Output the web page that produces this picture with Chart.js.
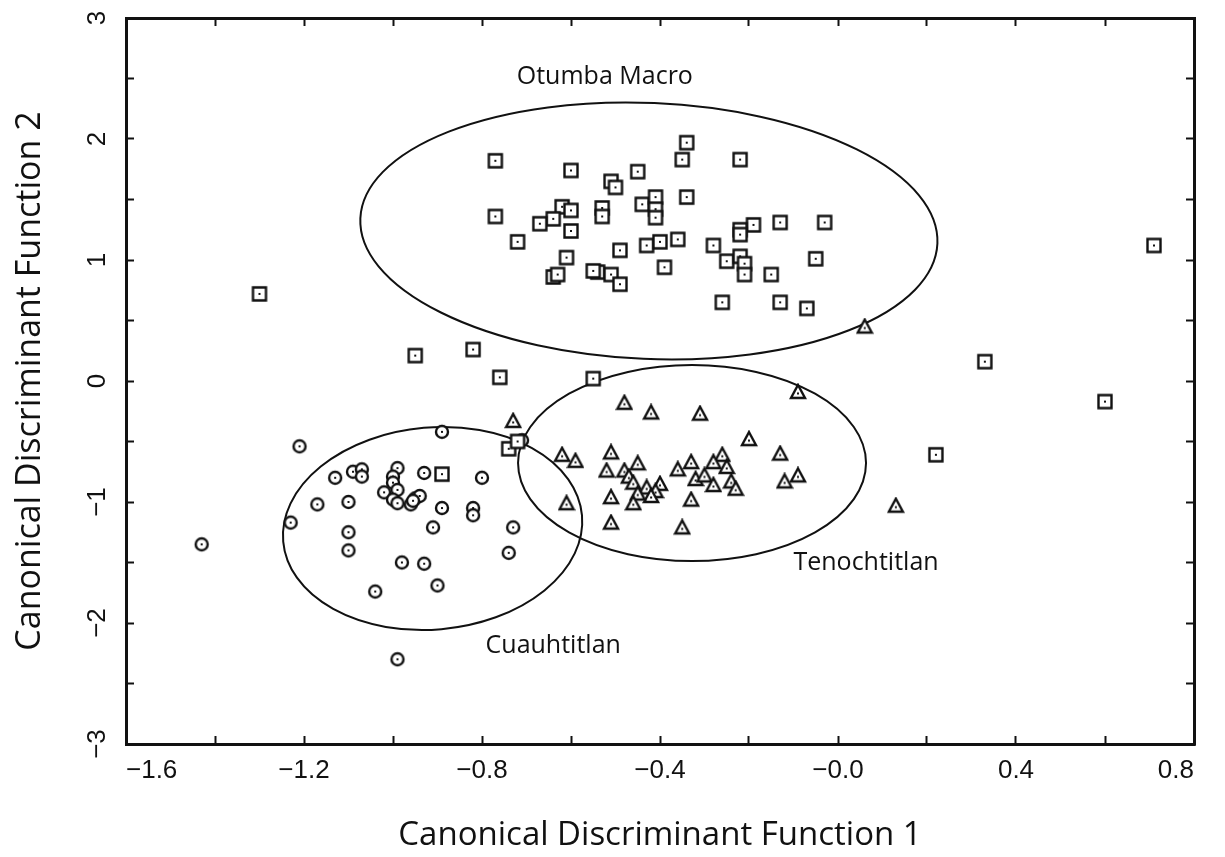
<!DOCTYPE html>
<html>
<head>
<meta charset="utf-8">
<script src="https://cdn.jsdelivr.net/npm/chart.js@4.4.1/dist/chart.umd.min.js"></script>
<style>
    html, body { margin: 0; padding: 0; background: #fff; }
    #grafico { display: block; }
</style>
</head>
<body>
<canvas id="grafico" width="1225" height="857"></canvas>
<script>
//--------------------------------------------------
// DADOS
//--------------------------------------------------
const otumbaX = [-0.77, -0.60, -0.45, -0.51, -0.50, -0.34, -0.35, -0.34, -0.77, -0.62,
    -0.60, -0.64, -0.67, -0.60, -0.53, -0.53, -0.44, -0.41, -0.41, -0.41,
    -0.72, -0.61, -0.49, -0.43, -0.40, -0.36, -0.39, -0.64, -0.63, -0.54,
    -0.55, -0.51, -0.49, -0.22, -0.19, -0.13, -0.03, -0.22, -0.22, -0.28,
    -0.25, -0.22, -0.21, -0.21, -0.15, -0.05, -0.26, -0.13, -0.07,
    -1.30, -0.95, -0.82, -0.76, -0.55, -0.74, -0.72, -0.89, 0.22, 0.33, 0.60, 0.71];
const otumbaY = [1.82, 1.74, 1.73, 1.65, 1.60, 1.97, 1.83, 1.52, 1.36, 1.44,
    1.41, 1.34, 1.30, 1.24, 1.43, 1.36, 1.46, 1.52, 1.42, 1.35,
    1.15, 1.02, 1.08, 1.12, 1.15, 1.17, 0.94, 0.86, 0.88, 0.90,
    0.91, 0.88, 0.80, 1.83, 1.29, 1.31, 1.31, 1.25, 1.21, 1.12,
    0.99, 1.03, 0.97, 0.88, 0.88, 1.01, 0.65, 0.65, 0.60,
    0.72, 0.21, 0.26, 0.03, 0.02, -0.56, -0.50, -0.77, -0.61, 0.16, -0.17, 1.12];

const tenochX = [-0.73, -0.48, -0.42, -0.31, -0.62, -0.59, -0.51, -0.52, -0.48, -0.45,
    -0.47, -0.46, -0.43, -0.40, -0.41, -0.42, -0.45, -0.46, -0.51, -0.36,
    -0.33, -0.32, -0.33, -0.61, -0.51, -0.35, -0.09, -0.20, -0.13, -0.26,
    -0.28, -0.25, -0.30, -0.28, -0.24, -0.23, -0.09, -0.12, 0.13, 0.06];
const tenochY = [-0.33, -0.18, -0.26, -0.27, -0.61, -0.66, -0.59, -0.74, -0.74, -0.68,
    -0.79, -0.84, -0.88, -0.85, -0.91, -0.95, -0.93, -1.01, -0.96, -0.73,
    -0.67, -0.81, -0.98, -1.01, -1.17, -1.21, -0.09, -0.48, -0.60, -0.61,
    -0.67, -0.71, -0.78, -0.86, -0.83, -0.89, -0.78, -0.83, -1.03, 0.45];

const cuauhX = [-1.21, -0.89, -1.13, -1.09, -1.07, -1.07, -0.99, -1.00, -1.00, -0.99,
    -1.02, -1.00, -0.99, -0.96, -0.95, -0.94, -0.955, -0.93, -0.80, -1.17,
    -1.10, -1.23, -0.89, -0.82, -0.82, -0.91, -1.10, -1.10, -0.73, -0.74,
    -0.98, -0.93, -0.90, -1.04, -0.99, -1.43, -0.71];
const cuauhY = [-0.54, -0.42, -0.80, -0.75, -0.73, -0.79, -0.72, -0.79, -0.84, -0.90,
    -0.92, -0.98, -1.01, -1.02, -0.97, -0.95, -0.99, -0.76, -0.80, -1.02,
    -1.00, -1.17, -1.05, -1.05, -1.11, -1.21, -1.25, -1.40, -1.21, -1.42,
    -1.50, -1.51, -1.69, -1.74, -2.30, -1.35, -0.49];

// elipses de confiança (centro e semi-eixos em unidades dos eixos)
const elipseX = [-0.425, -0.328, -0.911];
const elipseY = [1.24, -0.678, -1.219];
const elipseRX = [0.649, 0.391, 0.337];
const elipseRY = [1.058, 0.81, 0.835];
const elipseGiro = [2.5, 0, -5];

// nomes dos grupos
const grupos = ["Otumba Macro", "Tenochtitlan", "Cuauhtitlan"];
const grupoX = [-0.524, 0.063, -0.640];
const grupoY = [2.51, -1.50, -2.19];

// eixos
const xTicks = [-1.6, -1.4, -1.2, -1.0, -0.8, -0.6, -0.4, -0.2, 0, 0.2, 0.4, 0.6, 0.8];
const xTickLabels = ["\u22121.6", "", "\u22121.2", "", "\u22120.8", "", "\u22120.4", "", "\u22120.0", "", "0.4", "", "0.8"];
const yTicks = [-3, -2.5, -2, -1.5, -1, -0.5, 0, 0.5, 1, 1.5, 2, 2.5, 3];
const yTickLabels = ["\u22123", "", "\u22122", "", "\u22121", "", "0", "", "1", "", "2", "", "3"];

//--------------------------------------------------
// MARCADORES (quadrado, triângulo, círculo com ponto)
//--------------------------------------------------
function criarMarcador(tipo) {
    const c = document.createElement("canvas");
    c.width = 18; c.height = 18;
    const g = c.getContext("2d");
    g.strokeStyle = "#111";
    g.fillStyle = "#fff";
    g.lineWidth = 2.4;
    g.beginPath();
    if (tipo === "quadrado") g.rect(2.5, 2.5, 13, 13);
    else if (tipo === "circulo") g.arc(9, 9, 6, 0, 2 * Math.PI);
    else { g.moveTo(9, 2); g.lineTo(16, 15); g.lineTo(2, 15); g.closePath(); }
    g.fill();
    g.stroke();
    g.fillStyle = "#111";
    g.fillRect(8, tipo === "triangulo" ? 9.5 : 8, 2, 2);
    return c;
}

const pontos = (xs, ys) => xs.map((v, i) => ({ x: v, y: ys[i] }));

//--------------------------------------------------
// PLUGIN: ELIPSES E NOMES
//--------------------------------------------------
const elipses = {
    id: "elipses",
    beforeDatasetsDraw(chart) {
        const { ctx, chartArea, scales: { x, y } } = chart;
        ctx.save();
        ctx.beginPath();
        ctx.rect(chartArea.left, chartArea.top, chartArea.width, chartArea.height);
        ctx.clip();
        ctx.strokeStyle = "#111";
        ctx.lineWidth = 2;
        elipseX.forEach((cx, i) => {
            const px = x.getPixelForValue(cx);
            const py = y.getPixelForValue(elipseY[i]);
            const rx = x.getPixelForValue(cx + elipseRX[i]) - px;
            const ry = py - y.getPixelForValue(elipseY[i] + elipseRY[i]);
            ctx.beginPath();
            ctx.ellipse(px, py, rx, ry, elipseGiro[i] * Math.PI / 180, 0, 2 * Math.PI);
            ctx.stroke();
        });
        ctx.restore();
    },
    afterDatasetsDraw(chart) {
        const { ctx, scales: { x, y } } = chart;
        ctx.save();
        ctx.font = '25px "Open Sans"';
        ctx.fillStyle = "#111";
        ctx.textAlign = "center";
        ctx.textBaseline = "middle";
        grupos.forEach((nome, i) => {
            ctx.fillText(nome, x.getPixelForValue(grupoX[i]), y.getPixelForValue(grupoY[i]));
        });
        ctx.restore();
    }
};

//--------------------------------------------------
// EIXOS
//--------------------------------------------------
const fonteTick = { family: '"Liberation Sans Narrow", "Liberation Sans", Arial, sans-serif', size: 26 };
const fonteTitulo = { family: '"Open Sans", sans-serif', size: 33 };
const gradeComum = { drawOnChartArea: false, tickLength: -8, tickWidth: 2, color: "#111" };
const bordaComum = { display: true, width: 3, color: "#111" };

// sem folga extra para os rótulos das pontas
function semFolga(ax) {
    ax.paddingTop = 0; ax.paddingBottom = 0;
    ax.paddingLeft = 0; ax.paddingRight = 0;
}

function eixoX(pos, comRotulo) {
    return {
        type: "linear", position: pos, min: -1.6, max: 0.8,
        afterBuildTicks: ax => { ax.ticks = xTicks.map(v => ({ value: v })); },
        afterFit: ax => { ax.height = comRotulo ? 113 : 0; semFolga(ax); },
        grid: gradeComum, border: bordaComum,
        ticks: {
            display: comRotulo, autoSkip: false, maxRotation: 0, align: "inner",
            padding: 19, color: "#111", font: fonteTick,
            callback: (v, i) => xTickLabels[i]
        },
        title: {
            display: comRotulo, text: "Canonical Discriminant Function 1",
            color: "#111", font: fonteTitulo, padding: { top: 0, bottom: 2 }
        }
    };
}

function eixoY(pos, comRotulo) {
    return {
        type: "linear", position: pos, min: -3, max: 3,
        afterBuildTicks: ax => { ax.ticks = yTicks.map(v => ({ value: v })); },
        afterFit: ax => { ax.width = comRotulo ? 126 : 0; semFolga(ax); },
        grid: gradeComum, border: bordaComum,
        ticks: {
            display: comRotulo, autoSkip: false, minRotation: 90, maxRotation: 90,
            crossAlign: "center", padding: 21, color: "#111", font: fonteTick,
            callback: (v, i) => yTickLabels[i]
        },
        title: {
            display: comRotulo, text: "Canonical Discriminant Function 2",
            color: "#111", font: { family: '"Open Sans", sans-serif', size: 34 },
            padding: { top: 10, bottom: 0 }
        }
    };
}

//--------------------------------------------------
// GRÁFICO
//--------------------------------------------------
const graficoAtual = new Chart(document.getElementById("grafico"), {
    type: "scatter",
    data: {
        datasets: [
            { label: "Otumba Macro", data: pontos(otumbaX, otumbaY), pointStyle: criarMarcador("quadrado") },
            { label: "Tenochtitlan", data: pontos(tenochX, tenochY), pointStyle: criarMarcador("triangulo") },
            { label: "Cuauhtitlan", data: pontos(cuauhX, cuauhY), pointStyle: criarMarcador("circulo") }
        ]
    },
    options: {
        responsive: false,
        animation: false,
        devicePixelRatio: 1,
        layout: { padding: { top: 18, right: 31, bottom: 0, left: 0 } },
        plugins: { legend: { display: false }, tooltip: { enabled: false } },
        scales: {
            x: eixoX("bottom", true),
            x2: eixoX("top", false),
            y: eixoY("left", true),
            y2: eixoY("right", false)
        }
    },
    plugins: [elipses]
});
</script>
</body>
</html>
